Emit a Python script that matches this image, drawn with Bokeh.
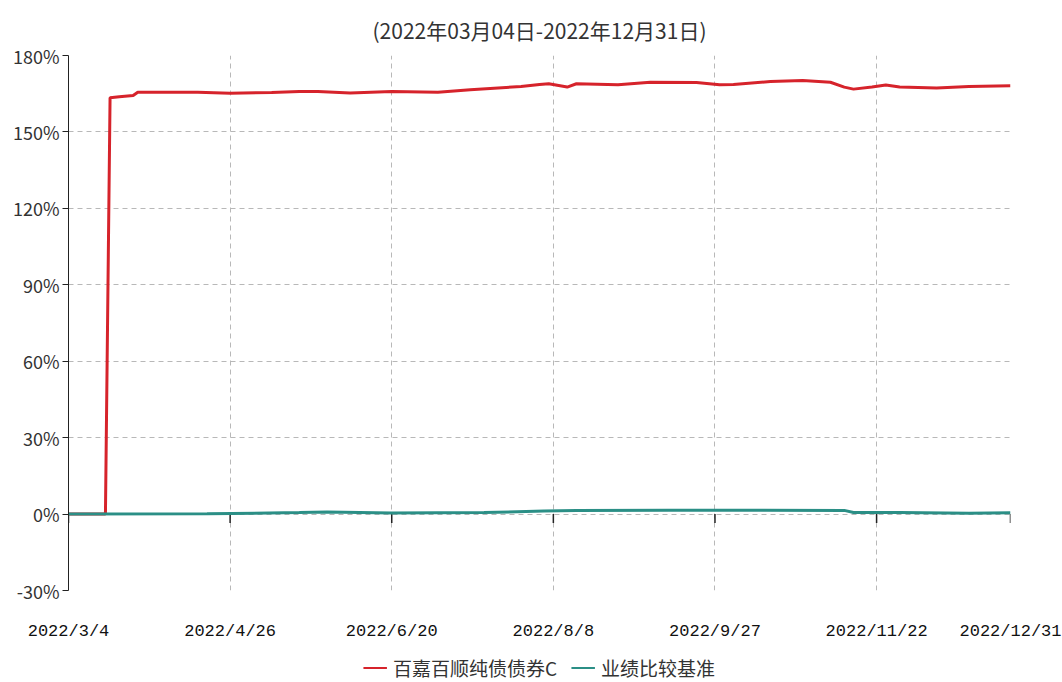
from bokeh.plotting import figure
from bokeh.layouts import column
from bokeh.models import Range1d, FixedTicker, Legend, LegendItem
from bokeh.embed import file_html
from bokeh.resources import INLINE

# ---- data (trading-day index from 2022/3/4, cumulative return %) ----
title_text = "(2022年03月04日-2022年12月31日)"
fund_name = "百嘉百顺纯债债券C"
bench_name = "业绩比较基准"

fund_idx = [0, 8, 9, 11, 14, 15, 20, 28, 35, 44, 50, 54, 61, 70, 80, 87, 98, 102, 104,
            108, 110, 119, 126, 136, 141, 144, 152, 159, 165, 168, 170, 174, 177, 180,
            188, 195, 204]
fund_val = [0.0, 0.0, 163.4, 163.8, 164.3, 165.6, 165.6, 165.6, 165.2, 165.5, 165.9, 165.9,
            165.3, 165.9, 165.6, 166.6, 167.8, 168.6, 168.9, 167.6, 168.9, 168.5, 169.5,
            169.4, 168.5, 168.6, 169.8, 170.2, 169.5, 167.6, 166.8, 167.6, 168.4, 167.6,
            167.2, 167.8, 168.1]

bench_idx = [0, 30, 50, 56, 70, 90, 103, 110, 130, 150, 168, 170, 180, 195, 204]
bench_val = [0.0, 0.1, 0.6, 0.8, 0.4, 0.6, 1.2, 1.45, 1.5, 1.5, 1.45, 0.6, 0.6, 0.3, 0.5]

x_tick_pos = [0, 35, 70, 105, 140, 175, 204]
x_tick_labels = ["2022/3/4", "2022/4/26", "2022/6/20", "2022/8/8", "2022/9/27",
                 "2022/11/22", "2022/12/31"]
y_tick_vals = [-30, 0, 30, 60, 90, 120, 150, 180]

RED = "#d6232b"
TEAL = "#2b8f86"
W = 1062

p = figure(width=W, height=652, output_backend="svg", toolbar_location=None,
           x_range=Range1d(x_tick_pos[0], x_tick_pos[-1]),
           y_range=Range1d(y_tick_vals[0], y_tick_vals[-1]),
           min_border_left=68, min_border_right=52, min_border_top=55,
           min_border_bottom=62, background_fill_color="white",
           border_fill_color="white")
p.outline_line_color = None

p.title.text = title_text
p.title.align = "center"
p.title.text_font = "Noto Sans CJK SC"
p.title.text_font_size = "21px"
p.title.text_font_style = "normal"
p.title.text_color = "#333333"
p.title.standoff = 22

# axes
xa = p.xaxis[0]
xa.ticker = FixedTicker(ticks=x_tick_pos)
xa.major_label_overrides = {t: l for t, l in zip(x_tick_pos, x_tick_labels)}
xa.axis_line_color = None
xa.major_tick_line_color = None
xa.minor_tick_line_color = None
xa.major_label_standoff = 25
xa.major_label_text_font = "Liberation Mono"
xa.major_label_text_font_size = "17px"
xa.major_label_text_color = "#111111"

ya = p.yaxis[0]
ya.ticker = FixedTicker(ticks=y_tick_vals)
ya.major_label_overrides = {v: f"{v}%" for v in y_tick_vals}
ya.axis_line_color = "#222222"
ya.axis_line_width = 1
ya.major_tick_line_color = "#222222"
ya.major_tick_in = 0
ya.major_tick_out = 6
ya.minor_tick_line_color = None
ya.major_label_standoff = 3
ya.major_label_text_font = "Noto Sans CJK SC"
ya.major_label_text_font_size = "18px"
ya.major_label_text_color = "#333333"

p.xgrid.ticker = FixedTicker(ticks=x_tick_pos)
p.xgrid.grid_line_color = "#b8b8b8"
p.xgrid.grid_line_dash = "5 4"
p.ygrid.ticker = FixedTicker(ticks=y_tick_vals)
p.ygrid.grid_line_color = "#b8b8b8"
p.ygrid.grid_line_dash = "5 4"

# tick marks on the zero line
p.segment(x0=x_tick_pos, y0=[0] * len(x_tick_pos), x1=x_tick_pos,
          y1=[-3.5] * len(x_tick_pos), line_color="#222222", line_width=1.5)

p.line(fund_idx, fund_val, line_color=RED, line_width=3)
p.line(bench_idx, bench_val, line_color=TEAL, line_width=3)

# legend strip underneath (proxy lines lie outside the visible range)
p2 = figure(width=W, height=30, output_backend="svg", toolbar_location=None,
            x_range=Range1d(0, 1), y_range=Range1d(0, 1),
            min_border_left=68, min_border_right=52, min_border_top=0,
            min_border_bottom=0, border_fill_color="white")
p2.outline_line_color = None
p2.axis.visible = False
p2.grid.visible = False
l_fund = p2.line(x=[-5, -4], y=[-5, -5], line_color=RED, line_width=2)
l_bench = p2.line(x=[-5, -4], y=[-5, -5], line_color=TEAL, line_width=2)

legend = Legend(items=[LegendItem(label=fund_name, renderers=[l_fund]),
                       LegendItem(label=bench_name, renderers=[l_bench])],
                orientation="horizontal", location="center")
legend.label_text_font = "Noto Sans CJK SC"
legend.label_text_font_size = "19px"
legend.label_text_color = "#333333"
legend.glyph_width = 24
legend.glyph_height = 20
legend.spacing = 14
legend.padding = 0
legend.margin = 0
legend.border_line_color = None
legend.background_fill_alpha = 0
legend.label_standoff = 6
p2.add_layout(legend)

open("out.html", "w").write(file_html(column(p, p2, spacing=0), INLINE))
